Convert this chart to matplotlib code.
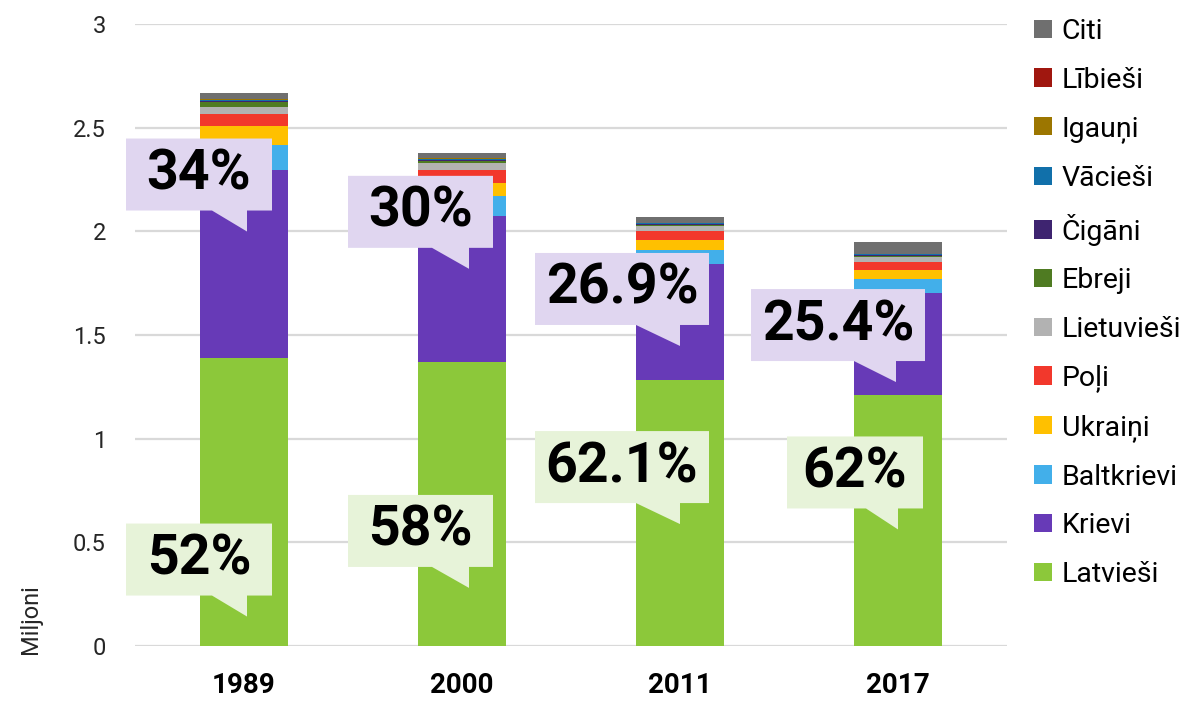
import matplotlib
matplotlib.use("Agg")
import matplotlib.pyplot as plt
from matplotlib.patches import Polygon, Patch
import numpy as np

plt.rcParams['font.family'] = ['Roboto', 'DejaVu Sans']

years = ["1989", "2000", "2011", "2017"]
groups = ["Latvieši", "Krievi", "Baltkrievi", "Ukraiņi", "Poļi", "Lietuvieši",
          "Ebreji", "Čigāni", "Vācieši", "Igauņi", "Lībieši", "Citi"]
colors = ["#8cc83a", "#673ab7", "#42afea", "#ffc000", "#f2382c", "#b2b2b2",
          "#4f7b22", "#3e2470", "#1170aa", "#9c7600", "#a0170f", "#6f6f6f"]

# miljoni, pa grupām (katrā sarakstā: 1989, 2000, 2011, 2017)
latviesi   = [1.388, 1.371, 1.285, 1.211]
krievi     = [0.906, 0.703, 0.557, 0.492]
baltkrievi = [0.120, 0.097, 0.068, 0.066]
ukraini    = [0.092, 0.064, 0.046, 0.045]
poli       = [0.060, 0.060, 0.045, 0.039]
lietuviesi = [0.035, 0.033, 0.024, 0.023]
ebreji     = [0.023, 0.010, 0.006, 0.005]
cigani     = [0.007, 0.008, 0.005, 0.005]
vaciesi    = [0.004, 0.003, 0.003, 0.003]
igauni     = [0.003, 0.003, 0.002, 0.002]
libiesi    = [0.0001, 0.0002, 0.0003, 0.0002]
citi       = [0.029, 0.025, 0.028, 0.059]
series = [latviesi, krievi, baltkrievi, ukraini, poli, lietuviesi,
          ebreji, cigani, vaciesi, igauni, libiesi, citi]

pct_krievi = ["34%", "30%", "26.9%", "25.4%"]
pct_latv = ["52%", "58%", "62.1%", "62%"]

yticks = [0, 0.5, 1, 1.5, 2, 2.5, 3]
ytick_labels = ["0", "0.5", "1", "1.5", "2", "2.5", "3"]

# izkārtojums (pikseļos attiecībā pret stabiņa centru) -- izsaukumu lodziņiem
kr_box = [(-118, 28), (-114, 31), (-145, 29), (-147, 27)]
kr_tail = [(-32, 3), (-30, 7), (-44, 0), (-44, -2)]
kr_yc = [2.274, 2.094, 1.722, 1.548]
lv_box = [(-118, 28), (-114, 31), (-145, 29), (-111, 25)]
lv_tail = [(-32, 3), (-30, 7), (-44, 0), (-32, 0)]
lv_yc = [0.417, 0.555, 0.863, 0.837]

W, H = 1191, 701
fig = plt.figure(figsize=(W / 100, H / 100), dpi=100)
ax = fig.add_axes([135 / W, 1 - 646 / H, 872 / W, 622 / H])

x = np.arange(len(years))
bottom = np.zeros(len(years))
for vals, col in zip(series, colors):
    ax.bar(x, vals, 0.405, bottom=bottom, color=col, zorder=2, linewidth=0)
    bottom += np.array(vals)

ax.set_xlim(-0.5, 3.5)
ax.set_ylim(0, 3)
ax.set_yticks(yticks)
ax.set_yticklabels(ytick_labels, fontsize=17, color="#262626")
ax.set_xticks(x)
ax.set_xticklabels(years, fontsize=20, fontweight="bold")
ax.tick_params(axis="y", length=0, pad=21)
ax.tick_params(axis="x", length=0, pad=19)
for s in ax.spines.values():
    s.set_visible(False)
for yv in yticks:
    ax.axhline(yv, color="#d9d9d9", lw=1.6, zorder=1)

px = 4 / 872   # dati uz pikseli x
py = 3 / 622   # dati uz pikseli y


def callout(i, box, tail, yc, text, fill):
    left, right = i + box[0] * px, i + box[1] * px
    top, bot = yc + 36 * py, yc - 36 * py
    tl, tx = i + tail[0] * px, i + tail[1] * px
    ty = bot - 21 * py
    pts = [(left, bot), (tl, bot), (tx, ty), (tx, bot), (right, bot), (right, top), (left, top)]
    ax.add_patch(Polygon(pts, closed=True, facecolor=fill, edgecolor="none", zorder=4, clip_on=False))
    ax.text((left + right) / 2, yc, text, ha="center", va="center", fontsize=40,
            fontweight="bold", color="black", zorder=5)


for i in range(len(years)):
    callout(i, kr_box[i], kr_tail[i], kr_yc[i], pct_krievi[i], "#e0d6f0")
    callout(i, lv_box[i], lv_tail[i], lv_yc[i], pct_latv[i], "#e7f3d9")

fig.text(30 / W, 1 - 619 / H, "Miljoni", rotation=90, ha="center", va="center",
         fontsize=17, color="#262626")

handles = [Patch(facecolor=c, edgecolor="none") for c in colors][::-1]
fig.legend(handles, groups[::-1], loc="upper left", bbox_to_anchor=(1034 / W, 1 - 18 / H),
           frameon=False, fontsize=20.5, handlelength=0.62, handleheight=0.62,
           handletextpad=0.35, labelspacing=0.76, borderpad=0, borderaxespad=0)

fig.savefig("out.png", dpi=100)
